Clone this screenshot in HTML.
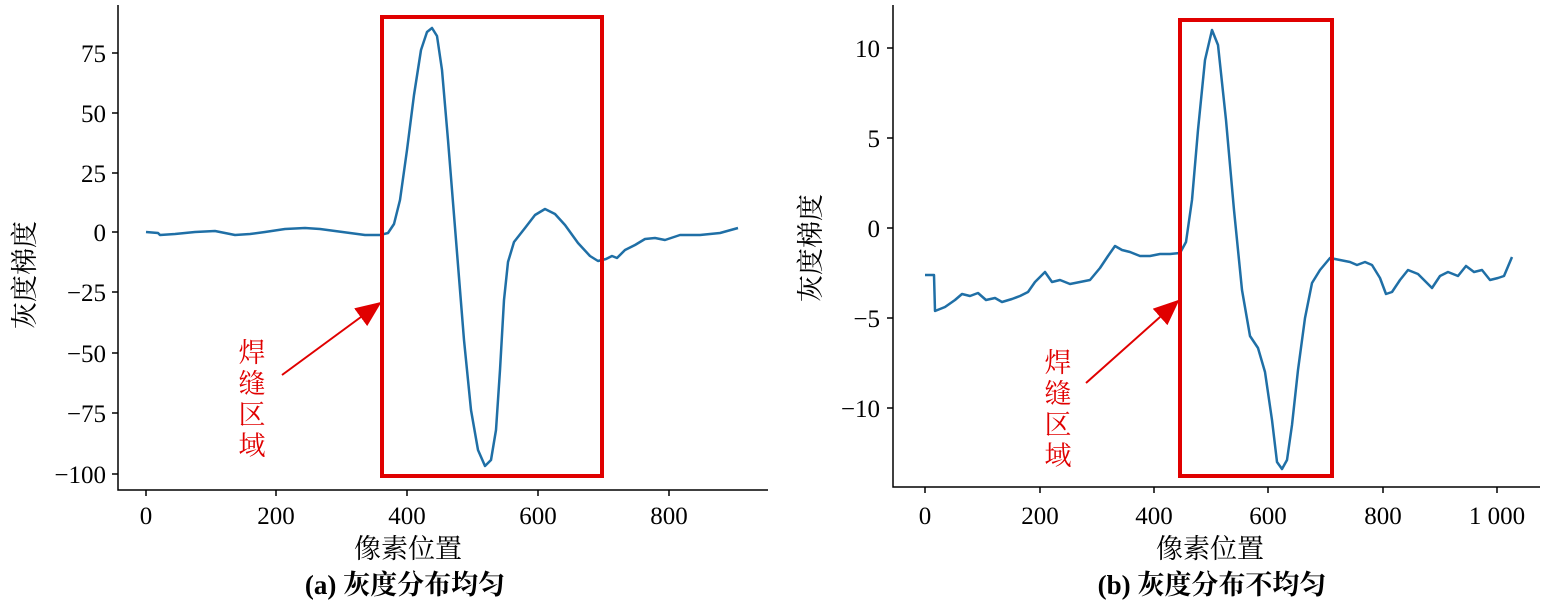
<!DOCTYPE html>
<html><head><meta charset="utf-8"><style>
body{margin:0;background:#fff;}
svg{display:block;}
text{font-family:"Liberation Serif","Noto Serif CJK SC",serif;fill:#000;}
.t{font-size:25px;}
.cj{font-family:"Liberation Serif","Noto Serif CJK SC",serif;font-size:27px;}
g.r text{fill:#e00000;font-size:27px;}
</style></head><body>
<svg width="1559" height="607" viewBox="0 0 1559 607">
<defs>
<marker id="ah2" markerWidth="26" markerHeight="22" refX="24" refY="11" orient="auto" markerUnits="userSpaceOnUse"><path d="M0,0 L26,11 L0,22 z" fill="#e00000"/></marker></defs>
<!-- Left plot -->
<g stroke="#000" stroke-width="1.5" fill="none">
<path d="M118,5 V490 H768"/>
<path d="M118,53h-6M118,113h-6M118,173h-6M118,232h-6M118,292h-6M118,353h-6M118,413h-6M118,474h-6"/>
<path d="M146,490v6M276,490v6M407,490v6M538,490v6M669,490v6"/>
</g>
<g class="t" text-anchor="end">
<text x="106" y="62">75</text><text x="106" y="122">50</text><text x="106" y="182">25</text><text x="106" y="241">0</text>
<text x="106" y="301">−25</text><text x="106" y="362">−50</text><text x="106" y="422">−75</text><text x="106" y="483">−100</text>
</g>
<g class="t" text-anchor="middle">
<text x="146" y="524">0</text><text x="276" y="524">200</text><text x="407" y="524">400</text><text x="538" y="524">600</text><text x="669" y="524">800</text>
</g>
<path fill="none" stroke="#1f6fa6" stroke-width="2.5" stroke-linejoin="round" d="M146,232 L158,233 L160,235 L175,234 L195,232 L215,231 L235,235 L250,234 L265,232 L285,229 L305,228 L320,229 L335,231 L350,233 L365,235 L380,235 L388,233 L394,224 L400,200 L407,150 L414,95 L421,50 L427,32 L432,28 L437,36 L442,70 L448,140 L456,240 L464,340 L471,410 L478,450 L485,466 L491,460 L496,430 L500,370 L504,300 L508,262 L514,242 L525,228 L535,215 L545,209 L555,214 L565,225 L578,243 L590,256 L598,261 L606,259 L612,256 L617,258 L625,250 L635,245 L645,239 L655,238 L665,240 L680,235 L700,235 L720,233 L738,228"/>
<rect x="382" y="17" width="220" height="459" fill="none" stroke="#e00000" stroke-width="4"/>
<line x1="282" y1="375" x2="380" y2="303" stroke="#e00000" stroke-width="2" marker-end="url(#ah2)"/>
<g class="r" text-anchor="middle">
<text x="252" y="362">焊</text><text x="252" y="393">缝</text><text x="252" y="424">区</text><text x="252" y="455">域</text>
</g>
<text class="cj" transform="translate(34,275) rotate(-90)" text-anchor="middle">灰度梯度</text>
<text class="cj" x="408" y="558" text-anchor="middle">像素位置</text>
<text class="cj" x="405" y="594" text-anchor="middle" font-weight="bold">(a) 灰度分布均匀</text>

<!-- Right plot -->
<g stroke="#000" stroke-width="1.5" fill="none">
<path d="M893,5 V487 H1540"/>
<path d="M893,48h-6M893,138h-6M893,228h-6M893,318h-6M893,408h-6"/>
<path d="M925,487v6M1040,487v6M1154,487v6M1268,487v6M1383,487v6M1497,487v6"/>
</g>
<g class="t" text-anchor="end">
<text x="880" y="57">10</text><text x="880" y="147">5</text><text x="880" y="237">0</text><text x="880" y="327">−5</text><text x="880" y="417">−10</text>
</g>
<g class="t" text-anchor="middle">
<text x="925" y="524">0</text><text x="1040" y="524">200</text><text x="1154" y="524">400</text><text x="1268" y="524">600</text><text x="1383" y="524">800</text><text x="1497" y="524">1 000</text>
</g>
<path fill="none" stroke="#1f6fa6" stroke-width="2.5" stroke-linejoin="round" d="M925,275 L934,275 L935,311 L945,307 L955,300 L962,294 L970,296 L978,293 L986,300 L995,298 L1002,302 L1012,299 L1020,296 L1028,292 L1035,282 L1045,272 L1052,282 L1060,280 L1070,284 L1080,282 L1090,280 L1100,268 L1108,256 L1115,246 L1122,250 L1130,252 L1140,256 L1150,256 L1160,254 L1170,254 L1180,253 L1186,242 L1192,200 L1198,130 L1205,60 L1212,30 L1218,45 L1226,120 L1234,210 L1242,290 L1250,336 L1258,348 L1265,372 L1272,420 L1277,462 L1282,469 L1287,460 L1292,425 L1298,370 L1305,318 L1312,283 L1320,270 L1330,258 L1340,260 L1350,262 L1357,265 L1365,262 L1372,265 L1380,278 L1386,294 L1392,292 L1400,280 L1408,270 L1418,274 L1426,282 L1432,288 L1440,276 L1448,272 L1458,276 L1466,266 L1474,272 L1482,270 L1490,280 L1498,278 L1504,276 L1512,257"/>
<rect x="1180" y="20" width="152" height="456" fill="none" stroke="#e00000" stroke-width="4"/>
<line x1="1086" y1="383" x2="1178" y2="301" stroke="#e00000" stroke-width="2" marker-end="url(#ah2)"/>
<g class="r" text-anchor="middle">
<text x="1058" y="372">焊</text><text x="1058" y="403">缝</text><text x="1058" y="434">区</text><text x="1058" y="465">域</text>
</g>
<text class="cj" transform="translate(820,248) rotate(-90)" text-anchor="middle">灰度梯度</text>
<text class="cj" x="1210" y="558" text-anchor="middle">像素位置</text>
<text class="cj" x="1212" y="594" text-anchor="middle" font-weight="bold">(b) 灰度分布不均匀</text>
</svg>
</body></html>
